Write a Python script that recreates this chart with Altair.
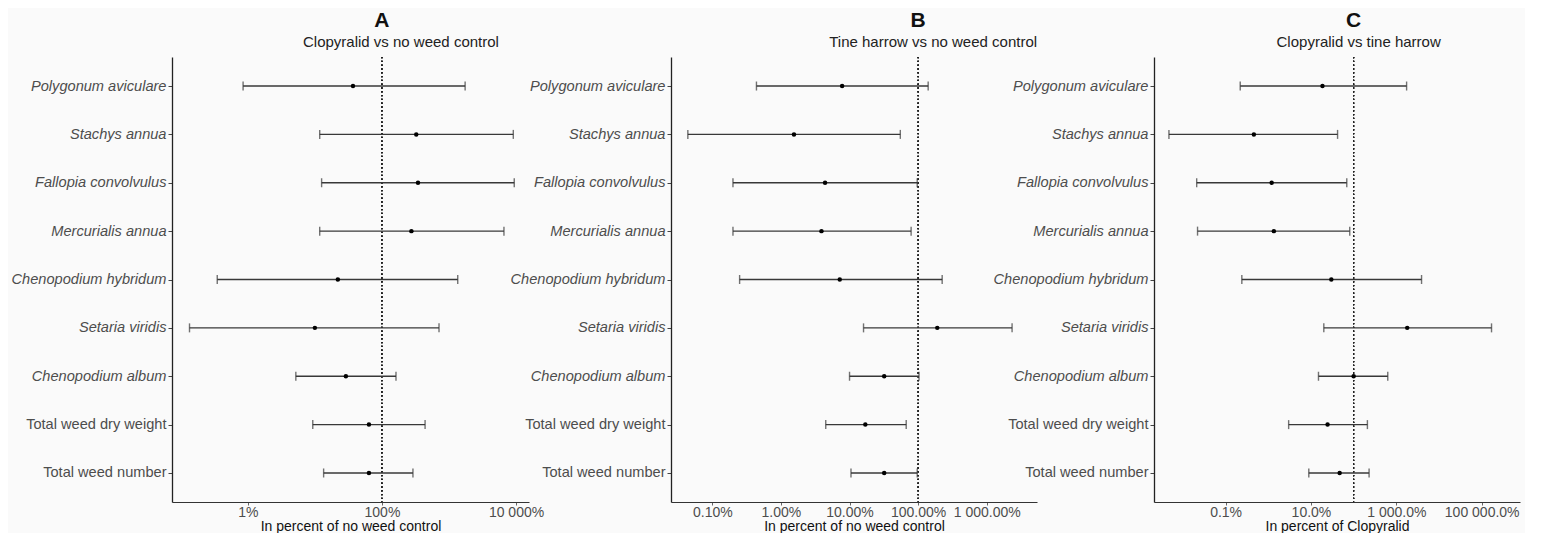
import altair as alt
import pandas as pd

categories = ["Polygonum aviculare", "Stachys annua", "Fallopia convolvulus",
              "Mercurialis annua", "Chenopodium hybridum", "Setaria viridis",
              "Chenopodium album", "Total weed dry weight", "Total weed number"]

# Panel A: Clopyralid vs no weed control (percent)
A_est = [37, 325, 345, 275, 22, 10, 29, 64, 64]
A_lo = [0.85, 11.8, 12.6, 11.8, 0.35, 0.135, 5.2, 9.3, 13.5]
A_hi = [1740, 9100, 9400, 6600, 1350, 710, 162, 440, 290]
A_ticks = [1, 100, 10000]
A_labels = ["1%", "100%", "10 000%"]

# Panel B: Tine harrow vs no weed control (percent)
B_est = [7.8, 1.55, 4.4, 3.9, 7.2, 190, 32, 17, 32]
B_lo = [0.44, 0.044, 0.20, 0.20, 0.25, 16, 10, 4.5, 10.5]
B_hi = [140, 55, 97, 79, 224, 2340, 103, 67, 97]
B_ticks = [0.1, 1, 10, 100, 1000]
B_labels = ["0.10%", "1.00%", "10.00%", "100.00%", "1 000.00%"]

# Panel C: Clopyralid vs tine harrow (percent)
C_est = [18.6, 0.46, 1.2, 1.35, 30, 1800, 100, 24.5, 47]
C_lo = [0.22, 0.0047, 0.021, 0.022, 0.24, 20, 15, 3.0, 8.9]
C_hi = [1740, 42, 69, 81, 3900, 170000, 630, 210, 230]
C_ticks = [0.1, 10, 1000, 100000]
C_labels = ["0.1%", "10.0%", "1 000.0%", "100 000.0%"]

FONT = "Liberation Sans"
H = 445


def label_expr(vals, labs):
    expr = "''"
    for v, l in reversed(list(zip(vals, labs))):
        expr = f"datum.value == {v} ? '{l}' : ({expr})"
    return expr


def panel(letter, subtitle, xtitle, est, lo, hi, ticks, labels, domain, width, sub_dx):
    df = pd.DataFrame({"cat": categories, "est": est, "lo": lo, "hi": hi})
    base = alt.Chart(df)
    xscale = alt.Scale(type="log", domain=domain, nice=False)
    yenc = alt.Y("cat:N", sort=categories,
                 scale=alt.Scale(type="point", padding=0.6),
                 axis=alt.Axis(title=None, labelFont=FONT, labelFontSize=14.6,
                               labelColor="#4d4d4d", tickColor="#444", tickSize=4,
                               labelPadding=2, domainColor="#222", domainWidth=1.3,
                               grid=False,
                               labelFontStyle=alt.condition(
                                   "indexof(datum.value, 'Total') === 0",
                                   alt.value("normal"), alt.value("italic"))))
    xaxis = alt.Axis(title=xtitle, values=ticks, labelExpr=label_expr(ticks, labels),
                     labelFont=FONT, labelFontSize=14, labelColor="#4d4d4d",
                     titleFont=FONT, titleFontSize=14, titleFontWeight="normal",
                     titleColor="#111", tickColor="#666", tickSize=3,
                     labelPadding=0, titlePadding=0, domainColor="#333",
                     domainWidth=1.2, grid=False, labelFlush=False)
    rule = base.mark_rule(color="#383838", strokeWidth=1.4).encode(
        x=alt.X("lo:Q", scale=xscale, axis=xaxis), x2="hi:Q", y=yenc)
    cap_lo = base.mark_tick(color="#383838", size=9, thickness=1.4).encode(
        x="lo:Q", y=alt.Y("cat:N", sort=categories))
    cap_hi = base.mark_tick(color="#383838", size=9, thickness=1.4).encode(
        x="hi:Q", y=alt.Y("cat:N", sort=categories))
    pts = base.mark_circle(color="black", size=20, opacity=1).encode(
        x="est:Q", y=alt.Y("cat:N", sort=categories))
    ref = base.mark_rule(color="#222", strokeDash=[1.2, 2.6], strokeWidth=1.0).encode(
        x=alt.datum(100))
    tdf = pd.DataFrame({"letter": [letter], "sub": [subtitle]})
    tbase = alt.Chart(tdf)
    let = tbase.mark_text(font=FONT, fontSize=21, fontWeight="bold", color="#111",
                          baseline="middle").encode(
        x=alt.datum(100), y=alt.value(-36), text="letter:N")
    sub = tbase.mark_text(font=FONT, fontSize=15, color="#222", baseline="middle",
                          dx=sub_dx).encode(
        x=alt.datum(100), y=alt.value(-15), text="sub:N")
    return alt.layer(ref, rule, cap_lo, cap_hi, pts, let, sub).properties(
        width=width, height=H)


pA = panel("A", "Clopyralid vs no weed control", "In percent of no weed control",
           A_est, A_lo, A_hi, A_ticks, A_labels, [0.074, 15600], 357, 19)
pB = panel("B", "Tine harrow vs no weed control", "In percent of no weed control",
           B_est, B_lo, B_hi, B_ticks, B_labels, [0.025, 5400], 366, 15)
pC = panel("C", "Clopyralid vs tine harrow", "In percent of Clopyralid",
           C_est, C_lo, C_hi, C_ticks, C_labels, [0.0021, 790000], 366, 5)

inner = alt.hconcat(pB, pC, spacing=117, bounds="flush")
chart = alt.hconcat(pA, inner, spacing=142, bounds="flush").properties(
    padding={"left": 3, "top": 2, "right": 5, "bottom": 0},
    background="#fafafa"
).configure_view(stroke=None)

chart.save("out.html", embed_options={"renderer": "svg", "actions": False})
